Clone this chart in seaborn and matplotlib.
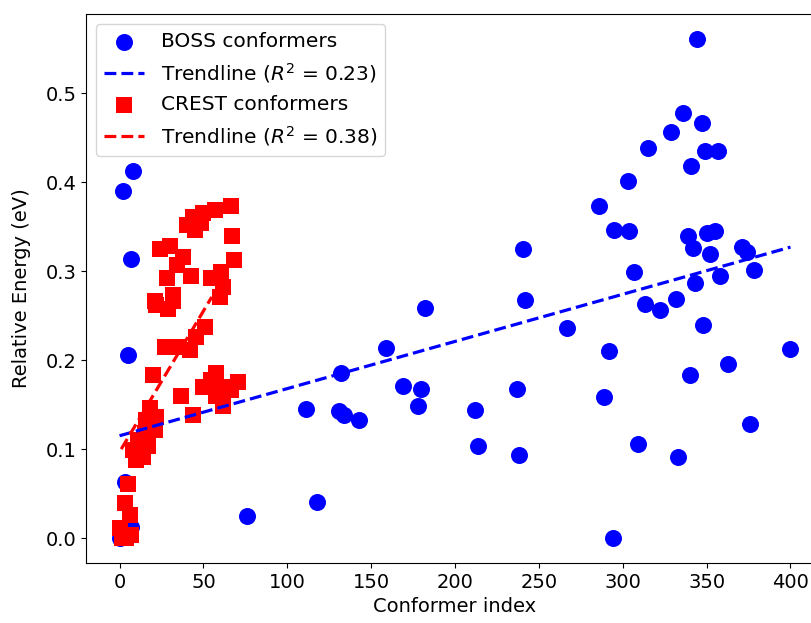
import matplotlib
matplotlib.use("Agg")
import matplotlib.pyplot as plt
import seaborn as sns
import numpy as np

# BOSS conformers
boss_x = [0, 7, 3, 2, 8, 7, 5, 76, 118,
          111, 131, 134, 143, 132, 159, 169, 180, 178, 182,
          212, 214, 237, 238, 240.5, 242, 267,
          286, 289, 292, 294, 295, 303, 304, 307, 309, 313, 315, 322, 329, 332,
          333, 336, 339, 340, 341, 342, 343, 344, 347, 348, 349, 350, 352, 355,
          357, 358, 363, 371, 374, 376, 378, 400]
boss_y = [0.0, 0.012, 0.063, 0.390, 0.412, 0.314, 0.206, 0.025, 0.040,
          0.145, 0.143, 0.138, 0.133, 0.186, 0.214, 0.171, 0.168, 0.149, 0.259,
          0.144, 0.103, 0.168, 0.093, 0.325, 0.268, 0.236,
          0.373, 0.158, 0.210, 0.0, 0.346, 0.401, 0.345, 0.299, 0.106, 0.263, 0.438, 0.256, 0.456, 0.269,
          0.091, 0.478, 0.339, 0.183, 0.418, 0.326, 0.287, 0.561, 0.467, 0.239, 0.435, 0.343, 0.319, 0.345,
          0.435, 0.294, 0.196, 0.327, 0.321, 0.128, 0.301, 0.212]

# CREST conformers
crest_x = [0.2, 1.2, 4, 7.1, 6.1, 3.2, 5.2,
           10, 14, 8, 17, 11, 15, 21, 16, 22, 18,
           20, 36.9, 43.9, 49.8, 54.8, 57.7, 58.7, 57.7, 61.7, 64.7, 66.7, 70.6,
           27, 34.9, 41.9, 45.8, 50.8,
           22, 29, 32, 21, 32, 59.7,
           28, 42.4, 54.8, 60.7, 61.7, 34, 37.9, 68.3,
           24, 30, 67.1,
           40.5, 43.8, 48.8, 45, 49.8, 57.1, 66.3]
crest_y = [0.011, 0.0, 0.0, 0.003, 0.026, 0.039, 0.061,
           0.088, 0.091, 0.099, 0.103, 0.110, 0.118, 0.121, 0.133, 0.136, 0.146,
           0.183, 0.160, 0.138, 0.170, 0.178, 0.185, 0.170, 0.160, 0.148, 0.170, 0.166, 0.175,
           0.215, 0.215, 0.211, 0.226, 0.237,
           0.262, 0.258, 0.267, 0.267, 0.273, 0.271,
           0.292, 0.294, 0.292, 0.299, 0.282, 0.307, 0.316, 0.312,
           0.325, 0.328, 0.339,
           0.352, 0.361, 0.354, 0.346, 0.365, 0.369, 0.373]

# Trendlines
boss_trend_x = [0, 400]
boss_trend_y = [0.115, 0.327]
crest_trend_x = [1, 55]
crest_trend_y = [0.100, 0.271]

labels = ["BOSS conformers", r"Trendline ($R^2$ = 0.23)",
          "CREST conformers", r"Trendline ($R^2$ = 0.38)"]

plt.rcParams['font.family'] = ['DejaVu Sans']
FS = 14
plt.rcParams['font.size'] = FS

fig = plt.figure(figsize=(8.12, 6.23), dpi=100)
ax = fig.add_axes([86/812, 60/623, 738/812, 549/623])

sns.scatterplot(x=boss_x, y=boss_y, ax=ax, color="blue", marker="o",
                s=150, linewidth=0, label=labels[0])
sns.lineplot(x=boss_trend_x, y=boss_trend_y, ax=ax, color="blue",
             linestyle="--", linewidth=2.3, label=labels[1])
sns.scatterplot(x=crest_x, y=crest_y, ax=ax, color="red", marker="s",
                s=140, linewidth=0, label=labels[2])
sns.lineplot(x=crest_trend_x, y=crest_trend_y, ax=ax, color="red",
             linestyle="--", linewidth=2.3, label=labels[3])

ax.set_xlim(-20, 420)
ax.set_ylim(-0.028, 0.589)
ax.set_xticks(np.arange(0, 401, 50))
ax.set_yticks([0.0, 0.1, 0.2, 0.3, 0.4, 0.5])
ax.set_xlabel("Conformer index", fontsize=FS)
ax.set_ylabel("Relative Energy (eV)", fontsize=FS, labelpad=10)
ax.tick_params(labelsize=FS)
ax.spines['right'].set_visible(False)

ax.legend(loc="upper left", fontsize=14.5)

fig.savefig("out.png", dpi=100)
